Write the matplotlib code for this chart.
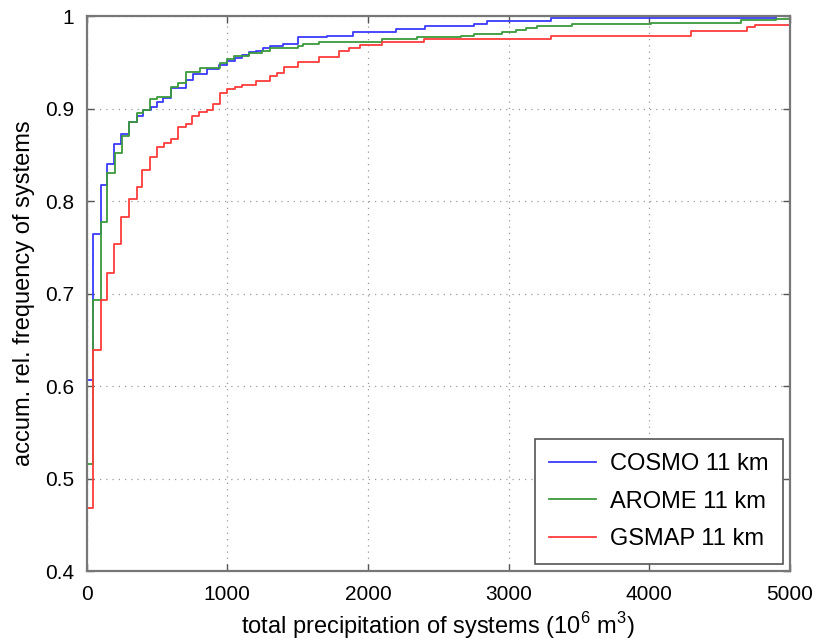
import matplotlib.pyplot as plt
from matplotlib.ticker import FuncFormatter

# step breakpoints (10^6 m^3) and accumulated relative frequency after each step
cosmo_x = [5, 47, 104, 147, 194, 246, 301, 355, 403, 455, 502, 545, 602, 704, 758,
           858, 940, 995, 1052, 1107, 1154, 1201, 1256, 1303, 1398, 1502, 1706, 1895,
           2196, 2402, 2753, 2848, 3298, 4897, 5000]
cosmo_y = [0.607, 0.765, 0.817, 0.840, 0.862, 0.873, 0.886, 0.892, 0.898, 0.902, 0.907,
           0.911, 0.922, 0.931, 0.937, 0.943, 0.947, 0.952, 0.955, 0.958, 0.961, 0.962,
           0.965, 0.968, 0.970, 0.977, 0.979, 0.983, 0.986, 0.989, 0.992, 0.995, 0.9975,
           1.0, 1.0]

arome_x = [5, 47, 104, 147, 199, 253, 301, 360, 403, 450, 502, 597, 649, 704, 805,
           948, 1000, 1047, 1154, 1249, 1303, 1502, 1540, 1651, 1876, 2101, 2350, 2658,
           2753, 2954, 3049, 3120, 3203, 3452, 4009, 4648, 4900, 5000]
arome_y = [0.516, 0.693, 0.777, 0.830, 0.852, 0.870, 0.886, 0.895, 0.899, 0.910, 0.913,
           0.923, 0.928, 0.940, 0.944, 0.949, 0.954, 0.957, 0.960, 0.962, 0.965, 0.968,
           0.970, 0.972, 0.9716, 0.975, 0.977, 0.979, 0.9805, 0.983, 0.985, 0.987,
           0.9895, 0.991, 0.993, 0.9957, 0.997, 0.997]

gsmap_x = [5, 47, 104, 147, 194, 246, 301, 360, 396, 450, 502, 550, 602, 649, 704,
           751, 798, 853, 900, 948, 1000, 1052, 1107, 1201, 1303, 1355, 1402, 1502,
           1651, 1793, 1864, 1942, 2101, 2397, 3298, 4298, 4696, 4748, 5000]
gsmap_y = [0.468, 0.639, 0.693, 0.722, 0.754, 0.783, 0.802, 0.815, 0.834, 0.848, 0.859,
           0.863, 0.867, 0.880, 0.883, 0.892, 0.896, 0.899, 0.905, 0.917, 0.921, 0.923,
           0.926, 0.930, 0.935, 0.939, 0.945, 0.950, 0.956, 0.962, 0.965, 0.969, 0.9716,
           0.975, 0.978, 0.984, 0.988, 0.990, 0.990]

labels = ["COSMO 11 km", "AROME 11 km", "GSMAP 11 km"]
colors = ["#3a3aff", "#3c9a3c", "#ff3c3c"]

plt.rcParams["font.family"] = ["Liberation Sans", "DejaVu Sans"]
plt.rcParams["mathtext.fontset"] = "custom"
plt.rcParams["mathtext.rm"] = "Liberation Sans"

fig = plt.figure(figsize=(8.17, 6.44), dpi=100)
ax = fig.add_axes([0.106, 0.113, 0.861, 0.862])

for xs, ys, lab, col in zip([cosmo_x, arome_x, gsmap_x],
                            [cosmo_y, arome_y, gsmap_y], labels, colors):
    ax.step(xs, ys, where="post", color=col, lw=1.3, label=lab)

ax.set_xlim(0, 5000)
ax.set_ylim(0.4, 1.0)
ax.set_xticks(range(0, 5001, 1000))
ax.set_yticks([0.4, 0.5, 0.6, 0.7, 0.8, 0.9, 1.0])
ax.yaxis.set_major_formatter(FuncFormatter(lambda v, p: f"{v:g}"))

ax.grid(True, linestyle=(0, (1, 4)), color="#9a9a9a", lw=0.9)
ax.tick_params(direction="in", length=5, width=1, colors="#555555",
               labelcolor="black", labelsize=15, top=True, right=True)
ax.tick_params(axis="x", pad=10)
ax.tick_params(axis="y", pad=9)
for s in ax.spines.values():
    s.set_color("#777777")
    s.set_linewidth(1.6)

ax.set_xlabel(r"total precipitation of systems (10$^6$ m$^3$)", fontsize=17, labelpad=4)
ax.set_ylabel("accum. rel. frequency of systems", fontsize=17, labelpad=7)

leg = ax.legend(loc="lower right", fontsize=17, handlelength=2.0, borderpad=0.6,
                labelspacing=0.65, handletextpad=0.6, fancybox=False, framealpha=1,
                borderaxespad=0.3)
leg.get_frame().set_edgecolor("#555555")
leg.get_frame().set_linewidth(1.2)

fig.savefig("out.png", dpi=100)
